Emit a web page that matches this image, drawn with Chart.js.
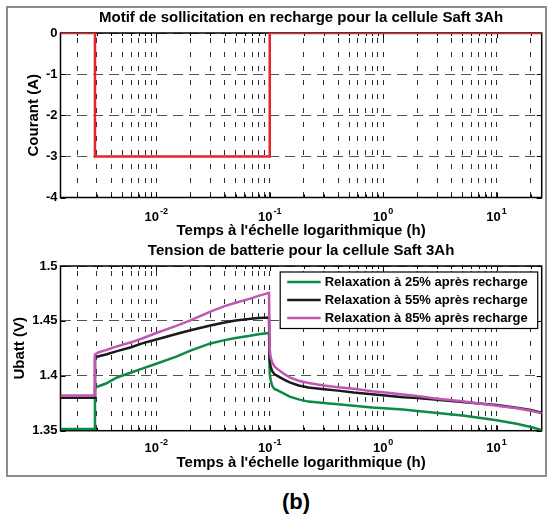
<!DOCTYPE html>
<html><head><meta charset="utf-8">
<script src="https://cdn.jsdelivr.net/npm/chart.js@4.4.1/dist/chart.umd.min.js"></script>
<style>
html,body{margin:0;padding:0;background:#fff;}
#wrap{position:relative;width:553px;height:516px;overflow:hidden;background:#fff;}
#frame{position:absolute;left:6px;top:6px;width:541px;height:471px;box-sizing:border-box;border:2px solid #8c8c8c;}
canvas{position:absolute;left:0;}
#c1{top:0;} #c2{top:240px;}
#cap{position:absolute;left:246px;width:100px;top:489px;text-align:center;font:bold 22px "Liberation Sans",Arial,sans-serif;line-height:26px;color:#000;}
</style></head><body>
<div id="wrap"><div id="frame"></div>
<canvas id="c1" width="553" height="240"></canvas>
<canvas id="c2" width="553" height="240"></canvas>
<div id="cap">(b)</div></div>
<script>
// ---------- data ----------
const xMinH = 0.00143;
const xMaxH = 25;
const xDecades = [0.001, 0.01, 0.1, 1, 10];
const xMultipliers = [1, 2, 3, 4, 5, 6, 7, 8, 9];
const xMajorTicks = [0.01, 0.1, 1, 10];
const xTickExponents = ['-2', '-1', '0', '1'];

const currentTimeH = [0.00143, 0.00288, 0.00288, 0.1, 0.1, 25];
const currentA = [0, 0, -3, -3, 0, 0];
const yCurrentTicks = [-4, -3, -2, -1, 0];
const yCurrentLabels = ['-4', '-3', '-2', '-1', '0'];

const voltTimeH = [0.00143, 0.00288, 0.00288, 0.0031, 0.0036, 0.0045, 0.006, 0.0075, 0.01, 0.015,
  0.02, 0.03, 0.04, 0.05, 0.065, 0.08, 0.0985, 0.1, 0.102, 0.105,
  0.11, 0.12, 0.135, 0.15, 0.18, 0.22, 0.3, 0.4, 0.55, 0.8,
  1.1, 1.5, 2, 3, 5, 7, 10, 15, 20, 25];
const volt25 = [1.3515, 1.3515, 1.389, 1.3905, 1.393, 1.3985, 1.403, 1.4065, 1.411, 1.4175,
  1.423, 1.4295, 1.4325, 1.4345, 1.4362, 1.4378, 1.439, 1.402, 1.396, 1.391,
  1.388, 1.3862, 1.3835, 1.381, 1.3785, 1.3765, 1.3752, 1.374, 1.3728, 1.3712,
  1.3703, 1.3692, 1.368, 1.3662, 1.3638, 1.3618, 1.3595, 1.3563, 1.3533, 1.3506];
const volt55 = [1.380, 1.380, 1.4165, 1.4178, 1.4194, 1.4225, 1.426, 1.4295, 1.433, 1.438,
  1.4415, 1.4458, 1.4485, 1.4503, 1.4518, 1.4527, 1.453, 1.414, 1.408, 1.4045,
  1.4015, 1.3993, 1.3963, 1.394, 1.3912, 1.3893, 1.3878, 1.3865, 1.3848, 1.3832,
  1.3818, 1.3805, 1.3797, 1.3782, 1.3762, 1.3748, 1.3733, 1.371, 1.3688, 1.3664];
const volt85 = [1.382, 1.382, 1.4195, 1.4215, 1.4234, 1.4268, 1.4305, 1.434, 1.439, 1.4455,
  1.4505, 1.4585, 1.4635, 1.4665, 1.4698, 1.4728, 1.4755, 1.424, 1.417, 1.4125,
  1.4085, 1.4052, 1.4015, 1.3985, 1.3955, 1.3935, 1.3912, 1.3895, 1.3882, 1.386,
  1.3845, 1.383, 1.3815, 1.3792, 1.3768, 1.3748, 1.3728, 1.3705, 1.3682, 1.3658];
const yVoltTicks = [1.35, 1.4, 1.45, 1.5];
const yVoltLabels = ['1.35', '1.4', '1.45', '1.5'];

const seriesLabels = ['Relaxation à 25% après recharge', 'Relaxation à 55% après recharge', 'Relaxation à 85% après recharge'];
const seriesColors = ['#0d8a45', '#1a1a1a', '#c257b3'];

const titleTop = 'Motif de sollicitation en recharge pour la cellule Saft 3Ah';
const titleBottom = 'Tension de batterie pour la cellule Saft 3Ah';

// ---------- helpers ----------
const FONT = '"Liberation Sans", Arial, Helvetica, sans-serif';
Chart.defaults.font.family = FONT;
Chart.defaults.color = '#000';

const xGridValues = xDecades.flatMap(d => xMultipliers.map(m => d * m)).filter(v => v >= xMinH && v <= xMaxH);
const isDecade = v => Math.abs(Math.log10(v) - Math.round(Math.log10(v))) < 1e-9;

const matlabAxes = {
  id: 'matlabAxes',
  beforeDatasetsDraw(chart) {
    const {ctx, chartArea: a, scales: {x, y}} = chart;
    ctx.save();
    ctx.strokeStyle = '#000';
    ctx.lineWidth = 1;
    ctx.beginPath();
    x.ticks.forEach(t => {
      const px = Math.round(x.getPixelForValue(t.value)) + 0.5;
      const len = t.major ? 5 : 3;
      ctx.moveTo(px, a.bottom); ctx.lineTo(px, a.bottom - len);
      ctx.moveTo(px, a.top); ctx.lineTo(px, a.top + len);
    });
    y.ticks.forEach(t => {
      const py = Math.round(y.getPixelForValue(t.value)) + 0.5;
      ctx.moveTo(a.left, py); ctx.lineTo(a.left + 5, py);
      ctx.moveTo(a.right, py); ctx.lineTo(a.right - 5, py);
    });
    ctx.stroke();
    ctx.lineWidth = 1.5;
    ctx.strokeRect(a.left, a.top, a.right - a.left, a.bottom - a.top);
    ctx.restore();
  },
  afterDraw(chart, args, opts) {
    const {ctx, chartArea: a, scales: {x}} = chart;
    ctx.save();
    ctx.fillStyle = '#000';
    ctx.textBaseline = 'middle';
    // title centred on the plot area
    ctx.textAlign = 'center';
    ctx.font = 'bold 15px ' + FONT;
    ctx.fillText(opts.title, (a.left + a.right) / 2, a.top - opts.titleGap);
    ctx.textAlign = 'left';
    xMajorTicks.forEach((v, i) => {
      const px = x.getPixelForValue(v);
      const exp = xTickExponents[i];
      ctx.font = 'bold 13px ' + FONT;
      const wb = ctx.measureText('10').width;
      ctx.font = 'bold 9px ' + FONT;
      const we = ctx.measureText(exp).width;
      const x0 = px - (wb + we + 1) / 2;
      const yy = a.bottom + opts.labelOffset;
      ctx.font = 'bold 13px ' + FONT;
      ctx.fillText('10', x0, yy);
      ctx.font = 'bold 9px ' + FONT;
      ctx.fillText(exp, x0 + wb + 1, yy - 6);
    });
    if (opts.legend) {
      const L = {left: a.right - 261.5, right: a.right - 4, top: a.top + 6, bottom: a.top + 62.5};
      ctx.fillStyle = '#fff';
      ctx.fillRect(L.left, L.top, L.right - L.left, L.bottom - L.top);
      ctx.strokeStyle = '#000';
      ctx.lineWidth = 1.2;
      ctx.strokeRect(L.left, L.top, L.right - L.left, L.bottom - L.top);
      chart.data.datasets.forEach((ds, i) => {
        const yy = a.top + 16 + i * 18;
        ctx.strokeStyle = ds.borderColor;
        ctx.lineWidth = 2.5;
        ctx.beginPath();
        ctx.moveTo(L.left + 7, yy); ctx.lineTo(L.left + 40.5, yy);
        ctx.stroke();
        ctx.fillStyle = '#000';
        ctx.font = 'bold 13px ' + FONT;
        ctx.fillText(ds.label, L.left + 44.5, yy);
      });
    }
    ctx.restore();
  }
};

function xScale(height, titlePadBottom) {
  return {
    type: 'logarithmic', min: xMinH, max: xMaxH,
    afterBuildTicks: s => { s.ticks = xGridValues.map(v => ({value: v, major: isDecade(v)})); },
    afterFit: s => { s.height = height; },
    ticks: {display: false},
    grid: {color: '#2a2a2a', lineWidth: 1, drawTicks: false},
    border: {display: false, dash: [5, 9], dashOffset: 9},
    title: {display: true, text: "Temps à l'échelle logarithmique (h)", font: {size: 15, weight: 'bold'}, color: '#000', padding: {top: 0, bottom: titlePadBottom}}
  };
}
function yScale(min, max, tickVals, tickLabels, title, titlePadTop) {
  return {
    type: 'linear', min: min, max: max,
    afterBuildTicks: s => { s.ticks = tickVals.map(v => ({value: v})); },
    afterFit: s => { s.width = 60.5; },
    ticks: {font: {size: 13, weight: 'bold'}, color: '#000', padding: 3, callback: (v, i) => tickLabels[i]},
    grid: {color: '#555', lineWidth: 1, drawTicks: false},
    border: {display: false, dash: [10, 6]},
    title: {display: true, text: title, font: {size: 15, weight: 'bold'}, color: '#000', padding: {top: titlePadTop, bottom: 0}}
  };
}

new Chart(document.getElementById('c1'), {
  type: 'line',
  data: {datasets: [{
    label: 'Courant',
    data: currentTimeH.map((t, i) => ({x: t, y: currentA[i]})),
    borderColor: '#e8232a', borderWidth: 2.5, pointRadius: 0, tension: 0, fill: false
  }]},
  options: {
    responsive: false, animation: false, devicePixelRatio: 1,
    layout: {padding: {left: 0, right: 11.3, top: 33, bottom: 0}},
    plugins: {
      legend: {display: false}, tooltip: {enabled: false}, title: {display: false},
      matlabAxes: {labelOffset: 20, legend: false, title: titleTop, titleGap: 15}
    },
    scales: {
      x: xScale(42.5, 0),
      y: yScale(-4, 0, yCurrentTicks, yCurrentLabels, 'Courant (A)', 25)
    }
  },
  plugins: [matlabAxes]
});

const voltSeries = [volt25, volt55, volt85];
new Chart(document.getElementById('c2'), {
  type: 'line',
  data: {datasets: voltSeries.map((vals, k) => ({
    label: seriesLabels[k],
    data: voltTimeH.map((t, i) => ({x: t, y: vals[i]})),
    borderColor: seriesColors[k], borderWidth: 2.5, pointRadius: 0, tension: 0, fill: false,
    order: 2 - k
  }))},
  options: {
    responsive: false, animation: false, devicePixelRatio: 1,
    layout: {padding: {left: 0, right: 11.3, top: 26, bottom: 0}},
    plugins: {
      legend: {display: false}, tooltip: {enabled: false}, title: {display: false},
      matlabAxes: {labelOffset: 18, legend: true, title: titleBottom, titleGap: 15}
    },
    scales: {
      x: xScale(49.3, 8),
      y: yScale(1.35, 1.5, yVoltTicks, yVoltLabels, 'Ubatt (V)', 10.5)
    }
  },
  plugins: [matlabAxes]
});
</script>
</body></html>
